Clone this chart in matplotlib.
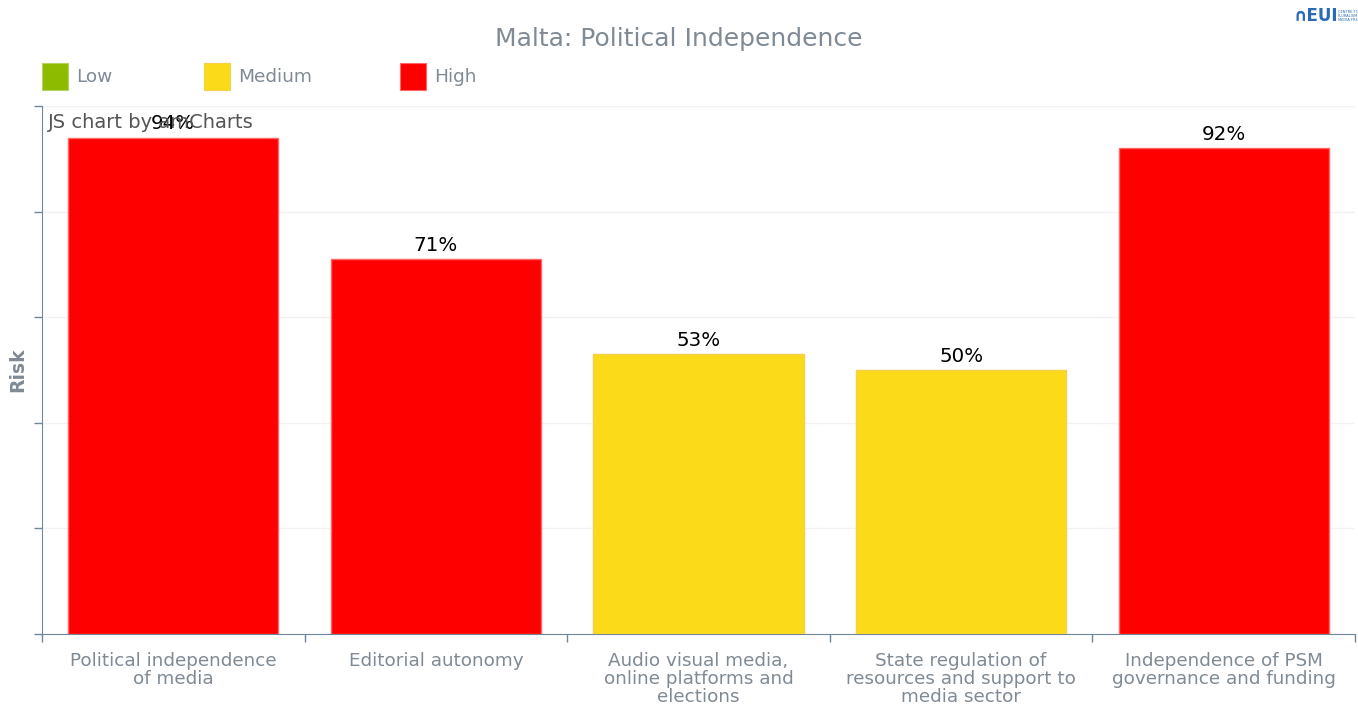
import matplotlib.pyplot as plt
from matplotlib.patches import Rectangle

categories = ["Political independence\nof media", "Editorial autonomy",
              "Audio visual media,\nonline platforms and\nelections",
              "State regulation of\nresources and support to\nmedia sector",
              "Independence of PSM\ngovernance and funding"]
values = [94, 71, 53, 50, 92]
levels = ["High", "High", "Medium", "Medium", "High"]
legend_names = ["Low", "Medium", "High"]

level_colors = {"Low": "#8cbb00", "Medium": "#fbdb19", "High": "#ff0000"}
level_edges = {"Low": "#b4d460", "Medium": "#f5d04a", "High": "#ff6666"}
gray = "#7f8a94"
axis_col = "#6f8799"

W, H = 1358, 705
fig = plt.figure(figsize=(W / 100, H / 100), dpi=100)
ax = fig.add_axes([42 / W, 1 - 634 / H, (1355 - 42) / W, (634 - 106) / H])

x = list(range(len(values)))
bars = ax.bar(x, values, width=0.8,
              color=[level_colors[l] for l in levels],
              edgecolor=[level_edges[l] for l in levels], linewidth=1, zorder=3)
for xi, v in zip(x, values):
    ax.text(xi, v + 0.8, f"{v}%", ha="center", va="bottom", fontsize=14.3, color="black", zorder=5)

ax.set_xlim(-0.5, len(values) - 0.5)
ax.set_ylim(0, 100)
ax.set_yticks([0, 20, 40, 60, 80, 100])
ax.set_yticklabels([])
ax.yaxis.grid(True, color="#f2f2f2", linewidth=1, zorder=0)
ax.tick_params(axis="y", length=6, color=axis_col, width=1)

ax.set_xticks([i + 0.5 for i in range(-1, len(values))])
ax.set_xticklabels([])
ax.tick_params(axis="x", length=6, color=axis_col, width=1, direction="out")
for xi, name in zip(x, categories):
    ax.text(xi, -3.5, name, ha="center", va="top", fontsize=13.2, color=gray,
            linespacing=0.98, transform=ax.transData)

for s in ["top", "right"]:
    ax.spines[s].set_visible(False)
ax.spines["left"].set_color(axis_col)
ax.spines["bottom"].set_color(axis_col)

ax.set_ylabel("Risk", fontsize=13.5, fontweight="bold", color=gray)
ax.yaxis.set_label_coords(-15 / (1355 - 42), 0.5)

fig.text(0.5, 1 - 39 / H, "Malta: Political Independence", ha="center", va="center",
         fontsize=18, color=gray)

# legend
leg_x = [42, 204, 400]
for lx, name in zip(leg_x, legend_names):
    fig.patches.append(Rectangle((lx / W, 1 - 90 / H), 26 / W, 27 / H,
                                 transform=fig.transFigure, facecolor=level_colors[name],
                                 edgecolor=level_edges[name], linewidth=0.8))
    fig.text((lx + 34) / W, 1 - 77 / H, name, ha="left", va="center", fontsize=13.3, color=gray)

# watermark
fig.text(48 / W, 1 - 122 / H, "JS chart by amCharts", ha="left", va="center",
         fontsize=14, color="#555555", zorder=1)

# logo
fig.text(1294 / W, 1 - 16 / H, "\u2229EUI", ha="left", va="center", fontsize=12,
         fontweight="bold", color="#2a6bb5")
fig.text(1338 / W, 1 - 16 / H, "CENTRE FC\nPLURALISM\nMEDIA FRE", ha="left", va="center",
         fontsize=2.6, color="#2a6bb5", linespacing=1.1)

fig.savefig("out.png", dpi=100)
